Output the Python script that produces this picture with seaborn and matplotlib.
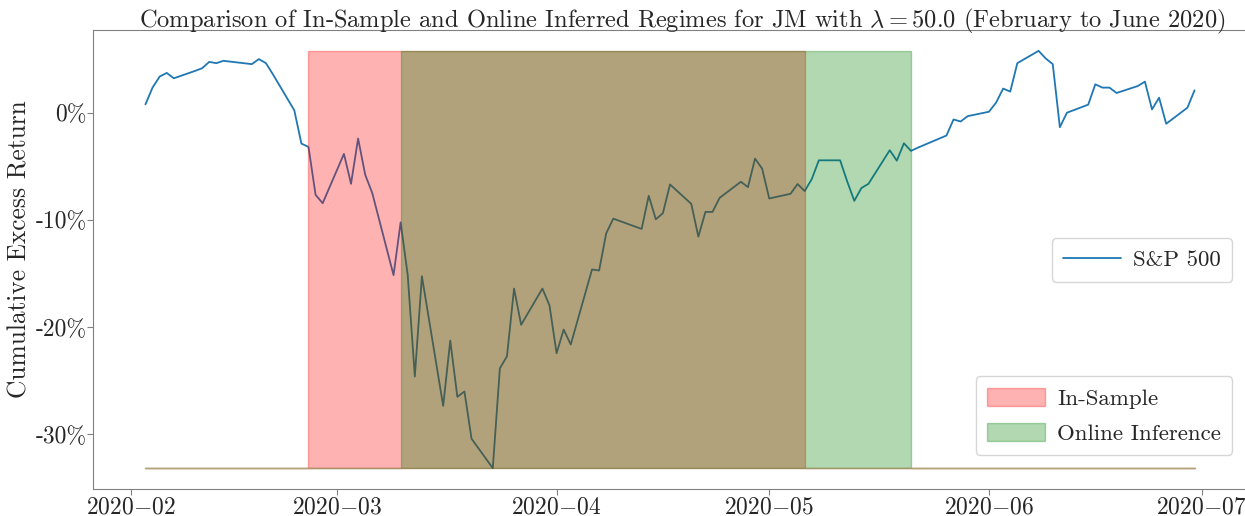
import numpy as np
import pandas as pd
import matplotlib
matplotlib.use("Agg")
import matplotlib.pyplot as plt
import matplotlib.dates as mdates
from matplotlib.ticker import FuncFormatter, MultipleLocator
import seaborn as sns

# trading days shown (Feb 3 - Jun 30 2020)
dates = pd.to_datetime([
    "2020-02-03", "2020-02-04", "2020-02-05", "2020-02-06", "2020-02-07",
    "2020-02-10", "2020-02-11", "2020-02-12", "2020-02-13", "2020-02-14",
    "2020-02-18", "2020-02-19", "2020-02-20", "2020-02-21",
    "2020-02-24", "2020-02-25", "2020-02-26", "2020-02-27", "2020-02-28",
    "2020-03-02", "2020-03-03", "2020-03-04", "2020-03-05", "2020-03-06",
    "2020-03-09", "2020-03-10", "2020-03-11", "2020-03-12", "2020-03-13",
    "2020-03-16", "2020-03-17", "2020-03-18", "2020-03-19", "2020-03-20",
    "2020-03-23", "2020-03-24", "2020-03-25", "2020-03-26", "2020-03-27",
    "2020-03-30", "2020-03-31", "2020-04-01", "2020-04-02", "2020-04-03",
    "2020-04-06", "2020-04-07", "2020-04-08", "2020-04-09",
    "2020-04-13", "2020-04-14", "2020-04-15", "2020-04-16", "2020-04-17",
    "2020-04-20", "2020-04-21", "2020-04-22", "2020-04-23", "2020-04-24",
    "2020-04-27", "2020-04-28", "2020-04-29", "2020-04-30", "2020-05-01",
    "2020-05-04", "2020-05-05", "2020-05-06", "2020-05-07", "2020-05-08",
    "2020-05-11", "2020-05-12", "2020-05-13", "2020-05-14", "2020-05-15",
    "2020-05-18", "2020-05-19", "2020-05-20", "2020-05-21", "2020-05-22",
    "2020-05-26", "2020-05-27", "2020-05-28", "2020-05-29",
    "2020-06-01", "2020-06-02", "2020-06-03", "2020-06-04", "2020-06-05",
    "2020-06-08", "2020-06-09", "2020-06-10", "2020-06-11", "2020-06-12",
    "2020-06-15", "2020-06-16", "2020-06-17", "2020-06-18", "2020-06-19",
    "2020-06-22", "2020-06-23", "2020-06-24", "2020-06-25", "2020-06-26",
    "2020-06-29", "2020-06-30",
])

# cumulative excess return of the S&P 500
cum_ret = [
    0.0078, 0.0234, 0.0337, 0.0371, 0.0321,
    0.0390, 0.0415, 0.0474, 0.0462, 0.0484,
    0.0453, 0.0500, 0.0462, 0.0356,
    0.0022, -0.0288, -0.0319, -0.0766, -0.0844,
    -0.0384, -0.0663, -0.0241, -0.0578, -0.0750,
    -0.1515, -0.1022, -0.1515, -0.2460, -0.1525,
    -0.2734, -0.2125, -0.2650, -0.2600, -0.3040,
    -0.3315, -0.2384, -0.2272, -0.1640, -0.1978,
    -0.1640, -0.1797, -0.2243, -0.2022, -0.2162,
    -0.1462, -0.1472, -0.1125, -0.0988,
    -0.1084, -0.0775, -0.0994, -0.0937, -0.0669,
    -0.0850, -0.1156, -0.0925, -0.0925, -0.0794,
    -0.0644, -0.0694, -0.0428, -0.0522, -0.0800,
    -0.0756, -0.0665, -0.0731, -0.0619, -0.0444,
    -0.0444, -0.0641, -0.0822, -0.0703, -0.0663,
    -0.0350, -0.0447, -0.0285, -0.0356, -0.0325,
    -0.0213, -0.0063, -0.0082, -0.0032,
    0.0009, 0.0094, 0.0225, 0.0197, 0.0462,
    0.0577, 0.0506, 0.0453, -0.0135, 0.0000,
    0.0075, 0.0265, 0.0234, 0.0234, 0.0184,
    0.0249, 0.0290, 0.0031, 0.0140, -0.0103,
    0.0047, 0.0209,
]

# bear regime periods (start inclusive, end exclusive)
insample_period = ("2020-02-26", "2020-05-06")
online_period = ("2020-03-10", "2020-05-21")

df = pd.DataFrame({"date": dates, "ret": cum_ret})
df["insample"] = (df["date"] >= insample_period[0]) & (df["date"] < insample_period[1])
df["online"] = (df["date"] >= online_period[0]) & (df["date"] < online_period[1])

sns.set_style("white")
plt.rcParams["font.family"] = ["cmr10"]
plt.rcParams["mathtext.fontset"] = "cm"
plt.rcParams["axes.unicode_minus"] = False
plt.rcParams["axes.formatter.use_mathtext"] = True

fig = plt.figure(figsize=(12.45, 5.16), dpi=100)
ax = fig.add_axes([0.0747, 0.0523, 0.9269, 0.8896])

sns.lineplot(data=df, x="date", y="ret", ax=ax, color="#1f77b4", linewidth=1.3, zorder=1)

# regime shading drawn on top of the line
ymin, ymax = df["ret"].min(), df["ret"].max()
f1 = ax.fill_between(df["date"], ymin, np.where(df["insample"], ymax, ymin), step="post",
                     color="red", alpha=0.3, zorder=2)
f2 = ax.fill_between(df["date"], ymin, np.where(df["online"], ymax, ymin), step="post",
                     color="green", alpha=0.3, zorder=2)

leg_kw = dict(fontsize=16.5, borderpad=0.5, labelspacing=0.6, handlelength=2.5,
              handletextpad=0.55, handleheight=0.85, borderaxespad=0)
line_handle = ax.get_lines()[0]
leg1 = ax.legend([line_handle], ["S&P 500"], loc="center right",
                 bbox_to_anchor=(0.9874, 0.499), **leg_kw)
ax.add_artist(leg1)
ax.legend([f1, f2], ["In-Sample", "Online Inference"], loc="lower right",
          bbox_to_anchor=(0.9874, 0.074), **leg_kw)

ax.xaxis.set_major_locator(mdates.MonthLocator())
ax.xaxis.set_major_formatter(FuncFormatter(lambda v, p: "$" + mdates.num2date(v).strftime("%Y{-}%m") + "$"))
ax.yaxis.set_major_locator(MultipleLocator(0.1))
ax.yaxis.set_major_formatter(FuncFormatter(lambda v, p: "%d%%" % round(v * 100)))
ax.tick_params(axis="both", labelsize=17, length=4, color="0.5", left=True, bottom=True)
ax.tick_params(axis="x", pad=1)
ax.tick_params(axis="y", pad=0.5)

for s in ax.spines.values():
    s.set_color("0.5")

ax.set_xlabel("")
ax.set_ylabel("Cumulative Excess Return", fontsize=18.3)
ax.yaxis.set_label_coords(-0.053, 0.523)
ax.set_title(r"Comparison of In-Sample and Online Inferred Regimes for JM with $\lambda = 50.0$ (February to June 2020)",
             fontsize=17.6, x=0.511, pad=2)

fig.savefig("out.png", dpi=100)
